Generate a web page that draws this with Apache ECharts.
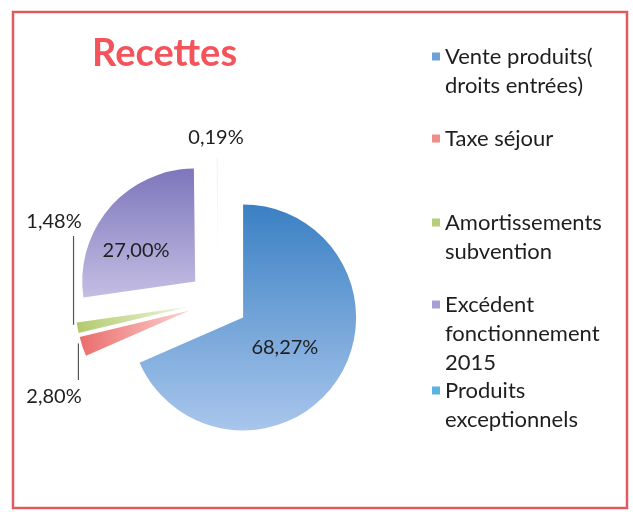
<!DOCTYPE html>
<html>
<head>
<meta charset="utf-8">
<script src="https://cdn.jsdelivr.net/npm/echarts@6/dist/echarts.min.js"></script>
<style>
  html, body { margin: 0; padding: 0; background: #fff; }
  #recettesChart { width: 633px; height: 512px; }
</style>
</head>
<body>
<div id="recettesChart"></div>
<script>
// données du graphique
var categories = [
  "Vente produits( droits entrées)",
  "Taxe séjour",
  "Amortissements subvention",
  "Excédent fonctionnement 2015",
  "Produits exceptionnels"
];
var legendLines = [
  ["Vente produits(", "droits entrées)"],
  ["Taxe séjour"],
  ["Amortissements", "subvention"],
  ["Excédent", "fonctionnement", "2015"],
  ["Produits", "exceptionnels"]
];
var percents = [68.27, 2.80, 1.48, 27.00, 0.19];

var swatches = ["#6fa0d8", "#ee8f8b", "#b8cc7c", "#a89fd5", "#5ab2e0"];
var fills = [
  new echarts.graphic.LinearGradient(0, 0, 0, 1, [
    { offset: 0, color: "#3a80c3" }, { offset: 1, color: "#a9c6ec" }]),
  new echarts.graphic.LinearGradient(0, 0, 1, 0, [
    { offset: 0, color: "#ea6d6c" }, { offset: 1, color: "#fbd3cf" }]),
  new echarts.graphic.LinearGradient(0, 0, 1, 0, [
    { offset: 0, color: "#b2ca6e" }, { offset: 1, color: "#f0f5dc" }]),
  new echarts.graphic.LinearGradient(0, 0, 0, 1, [
    { offset: 0, color: "#7d76bb" }, { offset: 1, color: "#c4bee4" }]),
  "#eef7fb"
];

var pieCenter = [218, 301];
var pieRadius = 113;
var explode = 30;
var lineH = 29;
var legendTops = [13, 124, 179, 232, 347];

function fmtPct(v) {
  return v.toFixed(2).replace(".", ",") + "%";
}

var chart = echarts.init(document.getElementById("recettesChart"));

// une légende par entrée pour garder l'espacement d'Excel
var legends = categories.map(function (name, i) {
  var n = legendLines[i].length;
  var blank = new Array(n).join("\n"); // lignes vides pour aligner le carré sur la 1re ligne
  return {
    data: [{ name: name, itemStyle: { color: swatches[i] } }],
    orient: "vertical",
    left: 432,
    top: legendTops[i],
    padding: 0,
    itemWidth: 8,
    itemHeight: 8,
    icon: "rect",
    selectedMode: false,
    formatter: function () { return blank + legendLines[i].join("\n"); },
    textStyle: {
      fontFamily: "Lato",
      fontSize: 22,
      color: "#1e1e1e",
      lineHeight: lineH
    }
  };
});

var isSmall = function (i) { return i === 1 || i === 2 || i === 4; };

var pieData = categories.map(function (name, i) {
  return {
    name: name,
    value: percents[i],
    selected: true,
    itemStyle: { color: fills[i] },
    label: { show: !isSmall(i), position: "inside" }
  };
});

var labelData = categories.map(function (name, i) {
  return {
    name: name,
    value: percents[i],
    label: { show: isSmall(i) },
    labelLine: { show: i === 1 || i === 2 }
  };
});

chart.setOption({
  animation: false,
  backgroundColor: "#fff",
  title: {
    text: "Recettes",
    left: 92,
    top: 35,
    padding: 0,
    textStyle: {
      fontFamily: "Lato",
      fontWeight: "bold",
      fontSize: 38,
      color: "#f4535c"
    }
  },
  legend: legends,
  graphic: [{
    type: "rect",
    shape: { x: 13, y: 12, width: 614, height: 496 },
    style: { fill: "none", stroke: "#dd5b61", lineWidth: 2.5 },
    silent: true
  }],
  series: [{
    // secteurs éclatés + étiquettes intérieures
    type: "pie",
    center: pieCenter,
    radius: pieRadius,
    startAngle: 90,
    clockwise: true,
    selectedMode: "multiple",
    selectedOffset: explode,
    avoidLabelOverlap: false,
    silent: true,
    emphasis: { disabled: true },
    select: { itemStyle: { borderWidth: 0 } },
    labelLine: { show: false },
    label: {
      fontFamily: "Lato",
      fontSize: 20,
      color: "#1e1e1e",
      formatter: function (p) { return fmtPct(p.value); }
    },
    labelLayout: function (p) {
      if (p.dataIndex === 0) return { dx: -8, dy: -2 };
      if (p.dataIndex === 3) return { dx: -14, dy: 8 };
      return {};
    },
    data: pieData
  }, {
    // série transparente qui porte les petites étiquettes extérieures
    type: "pie",
    center: pieCenter,
    radius: pieRadius,
    startAngle: 90,
    clockwise: true,
    selectedMode: false,
    avoidLabelOverlap: false,
    silent: true,
    emphasis: { disabled: true },
    itemStyle: { color: "rgba(0,0,0,0)", borderWidth: 0 },
    label: {
      position: "outside",
      fontFamily: "Lato",
      fontSize: 20,
      color: "#1e1e1e",
      formatter: function (p) { return fmtPct(p.value); }
    },
    labelLine: { lineStyle: { color: "#555", width: 1.2 } },
    labelLayout: function (p) {
      var pts = p.labelLinePoints;
      var e = null;
      if (pts) {
        // point du bord du secteur une fois éclaté
        var vx = pts[0][0] - pieCenter[0], vy = pts[0][1] - pieCenter[1];
        var len = Math.sqrt(vx * vx + vy * vy) || 1;
        e = [pts[0][0] + vx / len * explode, pts[0][1] + vy / len * explode];
      }
      if (p.dataIndex === 1) {
        var o1 = { x: 54, y: 397, align: "center", verticalAlign: "middle" };
        if (e) o1.labelLinePoints = [[e[0] - 4, e[1] - 3], [e[0] - 4, 380], [e[0] - 4, 380]];
        return o1;
      }
      if (p.dataIndex === 2) {
        var o2 = { x: 54, y: 222, align: "center", verticalAlign: "middle" };
        if (e) o2.labelLinePoints = [[e[0] - 4, e[1] - 3], [e[0] - 4, 236], [e[0] - 4, 236]];
        return o2;
      }
      if (p.dataIndex === 4) {
        return { x: 216, y: 138, align: "center", verticalAlign: "middle" };
      }
      return {};
    },
    data: labelData
  }]
});
</script>
</body>
</html>
